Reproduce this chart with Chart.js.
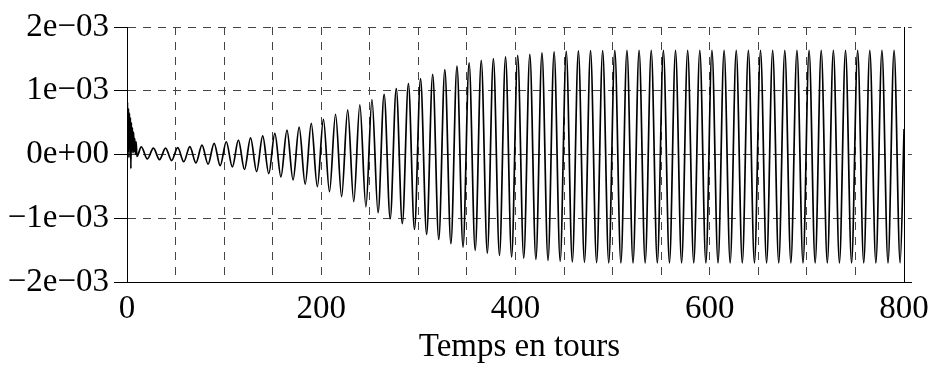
<!DOCTYPE html>
<html>
<head>
<meta charset="utf-8">
<script src="https://cdn.jsdelivr.net/npm/chart.js@4/dist/chart.umd.min.js"></script>
<style>
  html, body { margin: 0; padding: 0; background: #fff; }
  #wrap { width: 937px; height: 367px; }
</style>
</head>
<body>
<div id="wrap"><canvas id="chart" width="937" height="367"></canvas></div>
<script>
// signal values are read in units of 1e-3

// start-up transient (first ~10 turns)
const transientTime = [0, 0.5, 1.0, 1.5, 2.0, 2.5, 3.0, 3.5, 4.0, 4.5, 5.0, 5.6, 6.2, 6.8, 7.4, 8.0, 8.7, 9.4, 10.2];
const transientValue = [-0.75, 0.82, 0.05, 0.72, -0.05, 0.65, 0.1, 0.58, -0.22, 0.5, 0.05, 0.42, 0.02, 0.35, 0.05, 0.25, 0.0, 0.2, -0.03];

// maxima of each cycle
const peakTime = [14.7, 27.2, 39.7, 52.2, 64.7, 77.2, 89.7, 102.2, 114.7, 127.2,
  139.7, 152.2, 164.7, 177.2, 189.7, 202.2, 214.7, 227.2, 239.7, 252.2,
  264.7, 277.2, 289.7, 302.2, 314.7, 327.2, 339.7, 352.2, 364.7, 377.2,
  389.7, 402.2, 414.7, 427.2, 439.7, 452.2, 464.7, 477.2, 489.7, 502.2,
  514.7, 527.2, 539.7, 552.2, 564.7, 577.2, 589.7, 602.2, 614.7, 627.2,
  639.7, 652.2, 664.7, 677.2, 689.7, 702.2, 714.7, 727.2, 739.7, 752.2,
  764.7, 777.2, 789.7];
const peakValue = [0.12, 0.10, 0.10, 0.107, 0.125, 0.147, 0.175, 0.20, 0.225, 0.262,
  0.292, 0.332, 0.383, 0.428, 0.489, 0.552, 0.631, 0.699, 0.778, 0.861,
  0.945, 1.033, 1.112, 1.19, 1.259, 1.332, 1.386, 1.436, 1.478, 1.504,
  1.531, 1.557, 1.572, 1.593, 1.609, 1.618, 1.624, 1.628, 1.63, 1.632,
  1.632, 1.633, 1.632, 1.634, 1.633, 1.632, 1.633, 1.634, 1.633, 1.632,
  1.633, 1.633, 1.633, 1.633, 1.633, 1.633, 1.633, 1.633, 1.633, 1.633,
  1.633, 1.632, 1.633];

// minima of each cycle
const troughTime = [20.95, 33.45, 45.95, 58.45, 70.95, 83.45, 95.95, 108.45, 120.95, 133.45,
  145.95, 158.45, 170.95, 183.45, 195.95, 208.45, 220.95, 233.45, 245.95, 258.45,
  270.95, 283.45, 295.95, 308.45, 320.95, 333.45, 345.95, 358.45, 370.95, 383.45,
  395.95, 408.45, 420.95, 433.45, 445.95, 458.45, 470.95, 483.45, 495.95, 508.45,
  520.95, 533.45, 545.95, 558.45, 570.95, 583.45, 595.95, 608.45, 620.95, 633.45,
  645.95, 658.45, 670.95, 683.45, 695.95, 708.45, 720.95, 733.45, 745.95, 758.45,
  770.95, 783.45, 795.95];
const troughValue = [-0.07, -0.08, -0.095, -0.113, -0.132, -0.152, -0.175, -0.195, -0.235, -0.268,
  -0.30, -0.35, -0.40, -0.465, -0.505, -0.583, -0.662, -0.74, -0.82, -0.913,
  -1.007, -1.086, -1.175, -1.253, -1.332, -1.40, -1.452, -1.504, -1.546, -1.583,
  -1.609, -1.625, -1.646, -1.661, -1.675, -1.685, -1.692, -1.697, -1.70, -1.70,
  -1.70, -1.70, -1.70, -1.70, -1.70, -1.70, -1.70, -1.70, -1.70, -1.70,
  -1.70, -1.70, -1.70, -1.70, -1.70, -1.70, -1.70, -1.70, -1.70, -1.70,
  -1.70, -1.70, -1.70];

// last sample
const endTime = [800];
const endValue = [0.4];

// axes
const xGridValues = [0, 50, 100, 150, 200, 250, 300, 350, 400, 450, 500, 550, 600, 650, 700, 750, 800];
const xLabelValues = [0, 200, 400, 600, 800];
const yTickValues = [-2e-3, -1e-3, 0, 1e-3, 2e-3];
const yTickLabels = ['\u22122e\u221203', '\u22121e\u221203', '0e+00', '1e\u221203', '2e\u221203'];

const font = { family: "'Liberation Serif', 'Times New Roman', serif", size: 33 };

// put all samples together in time order
function buildPoints() {
  let pts = [];
  const add = (t, v) => {
    for (let i = 0; i < t.length; i++) {
      pts.push({ x: t[i], y: v[i] * 1e-3 });
    }
  };
  add(transientTime, transientValue);
  add(peakTime, peakValue);
  add(troughTime, troughValue);
  add(endTime, endValue);
  pts.sort((a, b) => a.x - b.x);
  return pts;
}

// solid frame line at the last grid position (800)
const rightFrame = {
  id: 'rightFrame',
  afterDatasetsDraw(chart) {
    const { ctx, chartArea, scales } = chart;
    const px = Math.round(scales.x.getPixelForValue(800)) + 0.5;
    ctx.save();
    ctx.strokeStyle = '#000';
    ctx.lineWidth = 1;
    ctx.beginPath();
    ctx.moveTo(px, chartArea.top);
    ctx.lineTo(px, chartArea.bottom);
    ctx.stroke();
    ctx.restore();
  }
};

new Chart(document.getElementById('chart').getContext('2d'), {
  type: 'line',
  data: {
    datasets: [{
      data: buildPoints(),
      borderColor: '#000',
      borderWidth: 1.7,
      pointRadius: 0,
      fill: false,
      cubicInterpolationMode: 'monotone'
    }]
  },
  options: {
    responsive: false,
    animation: false,
    devicePixelRatio: 1,
    layout: { padding: { top: 27, right: 17, bottom: 0, left: 0 } },
    plugins: { legend: { display: false }, tooltip: { enabled: false } },
    scales: {
      x: {
        type: 'linear',
        min: 0,
        max: 808,
        afterBuildTicks: (s) => { s.ticks = xGridValues.map(v => ({ value: v })); },
        afterFit: (s) => { s.height = 367 - 282; },
        ticks: {
          autoSkip: false,
          maxRotation: 0,
          padding: 8,
          color: '#000',
          font: font,
          callback: (v) => xLabelValues.includes(v) ? String(v) : ''
        },
        grid: { color: '#444', lineWidth: 1, drawTicks: false },
        border: { display: true, color: '#000', width: 1, dash: [8, 7] },
        title: { display: true, text: 'Temps en tours', color: '#000', font: font, padding: { top: 2, bottom: 0 } }
      },
      y: {
        type: 'linear',
        min: -2e-3,
        max: 2e-3,
        afterBuildTicks: (s) => { s.ticks = yTickValues.map(v => ({ value: v })); },
        afterFit: (s) => { s.width = 127; },
        ticks: {
          padding: 5,
          color: '#000',
          font: font,
          callback: (v, i) => yTickLabels[i]
        },
        grid: { color: '#444', lineWidth: 1, tickColor: '#000', tickLength: 13, tickBorderDash: [] },
        border: { display: true, color: '#000', width: 1, dash: [8, 7] }
      }
    }
  },
  plugins: [rightFrame]
});
</script>
</body>
</html>
